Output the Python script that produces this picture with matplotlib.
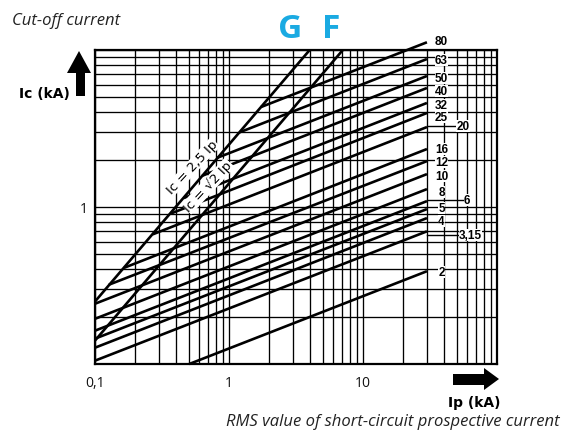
import matplotlib
matplotlib.use("Agg")
import matplotlib.pyplot as plt
from matplotlib.ticker import LogLocator, NullFormatter, FixedLocator, FixedFormatter
from matplotlib.patches import Polygon
from matplotlib.transforms import Affine2D
import numpy as np

# ---------------- data ----------------
ratings = ["80", "63", "50", "40", "32", "25", "20", "16", "12", "10",
           "8", "6", "5", "4", "3,15", "2"]
# start point of each fuse line (Ip kA, Ic kA)
start_ip = [1.73, 1.20, 0.82, 0.63, 0.46, 0.37, 0.27, 0.165, 0.127, 0.10,
            0.10, 0.10, 0.10, 0.10, 0.10, 0.505]
start_ic = [4.33, 2.99, 2.06, 1.58, 1.14, 0.91, 0.67, 0.41, 0.32, 0.242,
            0.194, 0.163, 0.145, 0.127, 0.105, 0.10]
# end point of each fuse line (all end at Ip = 30 kA)
end_ip = [30] * 16
end_ic = [11.2, 8.76, 6.83, 5.73, 4.60, 3.97, 3.23, 2.34, 1.96, 1.62,
          1.30, 1.09, 0.97, 0.85, 0.70, 0.39]
# rating label anchor points
label_ip = [38.5, 38.5, 38.5, 38.5, 38.5, 38.5, 55.7, 38.5, 38.5, 38.5,
            38.5, 59.7, 38.5, 38.5, 63.0, 38.5]
label_ic = [11.4, 8.63, 6.63, 5.50, 4.48, 3.75, 3.28, 2.34, 1.93, 1.58,
            1.25, 1.11, 0.985, 0.815, 0.663, 0.385]
leader = ["20", "6", "3,15"]

# reference lines Ic = 2.5 Ip and Ic = sqrt(2) Ip
peak25_ip = [0.1, 4.0]
peak25_ic = [0.25, 10.0]
peaksq_ip = [0.1, 7.07]
peaksq_ic = [0.141, 10.0]

xticks = [0.1, 1, 10]
xticklabels = ["0,1", "1", "10"]
yticks = [1]
yticklabels = ["1"]

# ---------------- figure ----------------
W, H = 568, 435
fig = plt.figure(figsize=(W / 100, H / 100), dpi=100)
px = Affine2D().scale(1 / W, -1 / H).translate(0, 1) + fig.transFigure

L, R, T, B = 95, 497, 51, 365
ax = fig.add_axes([L / W, 1 - B / H, (R - L) / W, (B - T) / H])
ax.set_xscale("log")
ax.set_yscale("log")
ax.set_xlim(0.1, 100)
ax.set_ylim(0.1, 10)

ax.xaxis.set_major_locator(FixedLocator(xticks))
ax.xaxis.set_major_formatter(FixedFormatter(xticklabels))
ax.yaxis.set_major_locator(FixedLocator(yticks))
ax.yaxis.set_major_formatter(FixedFormatter(yticklabels))
for a in (ax.xaxis, ax.yaxis):
    a.set_minor_locator(LogLocator(base=10, subs=np.arange(1, 10)))
    a.set_minor_formatter(NullFormatter())
ax.grid(which="both", color="black", lw=0.95)
ax.set_axisbelow(True)
ax.tick_params(which="both", length=0)
ax.tick_params(axis="x", pad=8, labelsize=10)
ax.tick_params(axis="y", pad=5, labelsize=10)
for lab in ax.get_xticklabels() + ax.get_yticklabels():
    lab.set_family("Open Sans")
    lab.set_color("#111111")
for s in ax.spines.values():
    s.set_linewidth(1.6)
    s.set_color("black")

# reference lines
ax.plot(peak25_ip, peak25_ic, color="black", lw=1.9, zorder=3)
ax.plot(peaksq_ip, peaksq_ic, color="black", lw=1.9, zorder=3)

# fuse lines
for sx, sy, ex, ey in zip(start_ip, start_ic, end_ip, end_ic):
    ax.plot([sx, ex], [sy, ey], color="black", lw=1.9, zorder=3,
            clip_on=False, solid_capstyle="butt")

# labels
for r, lx, ly in zip(ratings, label_ip, label_ic):
    if r in leader:
        ax.plot([30, lx], [ly, ly], color="black", lw=1.0, zorder=3, clip_on=False)
    ax.text(lx, ly, r, ha="center", va="center", fontsize=8.5,
            fontweight="bold", family="Liberation Sans", zorder=6,
            bbox=dict(fc="white", ec="none", pad=0.0), clip_on=False)

ax.text(0.53, 1.80, "Ic = 2,5 Ip", rotation=47, ha="center", va="center",
        fontsize=9.5, family="DejaVu Sans", zorder=6,
        bbox=dict(fc="white", ec="none", pad=0.2))
ax.text(0.697, 1.36, "Ic = \u221a2 Ip", rotation=47, ha="center", va="center",
        fontsize=9.5, family="DejaVu Sans", zorder=6,
        bbox=dict(fc="white", ec="none", pad=0.2))

# ---------------- titles & arrows ----------------
fig.text(12, 25, "Cut-off current", transform=px, fontsize=12,
         family="Open Sans", style="italic", color="#222222", va="baseline")
fig.text(290, 38, "G", transform=px, fontsize=24, family="Open Sans",
         fontweight="bold", color="#1AAAE2", ha="center", va="baseline")
fig.text(331, 38, "F", transform=px, fontsize=24, family="Open Sans",
         fontweight="bold", color="#1AAAE2", ha="center", va="baseline")
fig.text(70, 98, "Ic (kA)", transform=px, fontsize=10, family="DejaVu Sans",
         fontweight="bold", ha="right", va="baseline")
fig.text(500, 407, "Ip (kA)", transform=px, fontsize=10, family="DejaVu Sans",
         fontweight="bold", ha="right", va="baseline")
fig.text(560, 426, "RMS value of short-circuit prospective current", transform=px,
         fontsize=12, family="Open Sans", style="italic", color="#222222",
         ha="right", va="baseline")

up = Polygon([(76, 97), (76, 74), (67, 74), (79, 52), (91, 74), (85, 74), (85, 97)],
             closed=True, transform=px, fc="black", ec="none")
right = Polygon([(453, 375), (484, 375), (484, 369), (499, 380), (484, 391),
                 (484, 386), (453, 386)],
                closed=True, transform=px, fc="black", ec="none")
fig.add_artist(up)
fig.add_artist(right)

fig.savefig("out.png", dpi=100)
